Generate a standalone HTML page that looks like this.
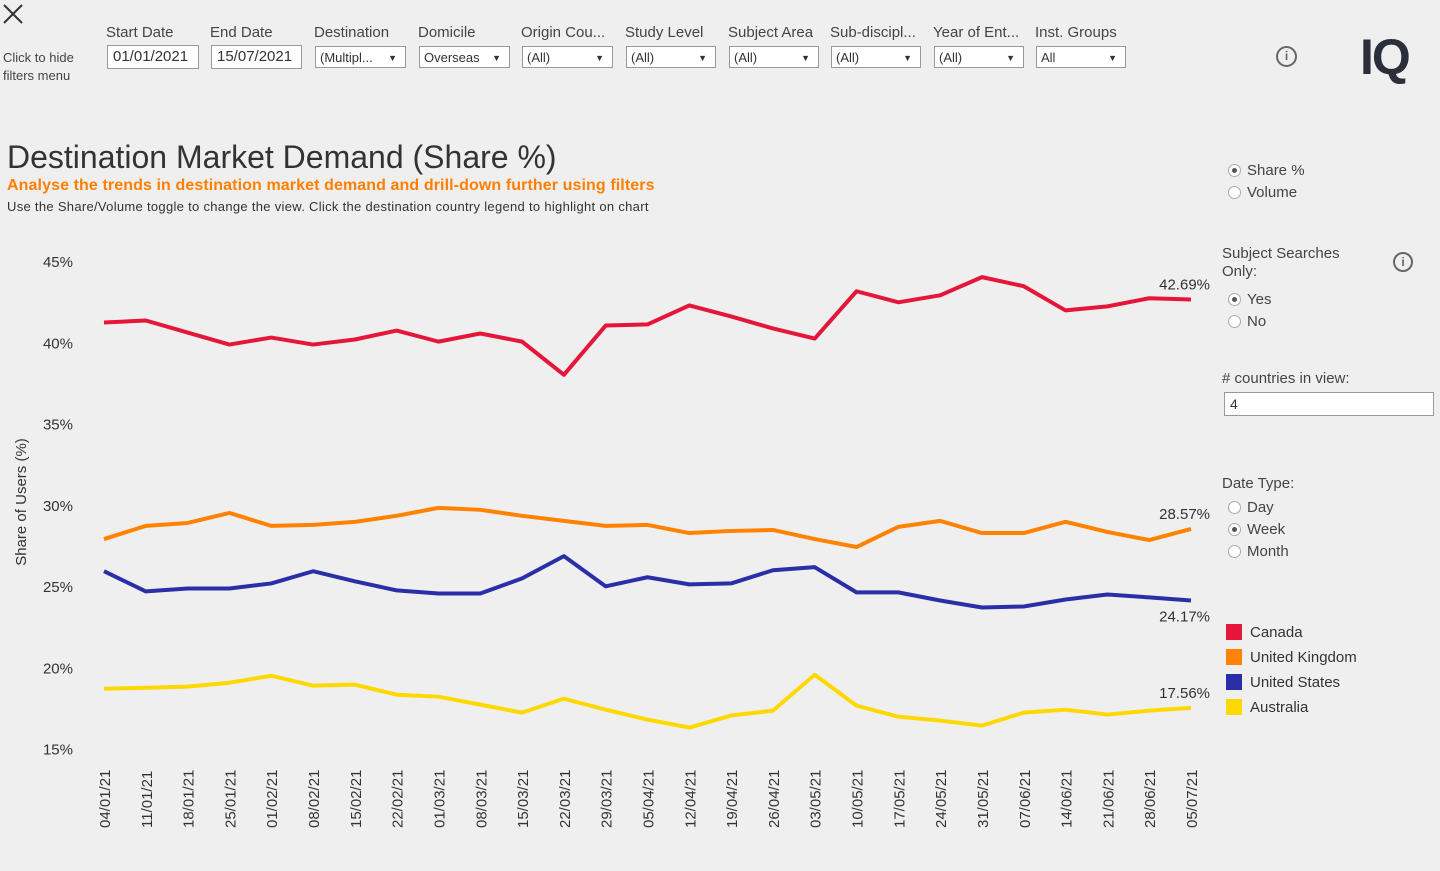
<!DOCTYPE html>
<html><head><meta charset="utf-8">
<style>
body{margin:0;width:1440px;height:871px;background:#efefef;font-family:"Liberation Sans",sans-serif;color:#333;position:relative;overflow:hidden}
.a{position:absolute}
.lbl{font-size:15px;color:#444}
.dd{position:absolute;height:22px;border:1px solid #999;background:#fff;font-size:13px;line-height:22px;padding-left:4px;box-sizing:border-box;color:#333}
.dd:after{content:"▼";position:absolute;right:8px;font-size:9px}
.inp{position:absolute;height:24px;border:1px solid #999;background:#fff;font-size:15px;line-height:22px;padding-left:5px;box-sizing:border-box}
.rad{position:absolute;font-size:15px;color:#444}
.rad i{display:inline-block;width:13px;height:13px;border:1px solid #aaa;border-radius:50%;background:#fff;vertical-align:-2px;margin-right:6px;position:relative;box-sizing:border-box}
.rad i.on:after{content:"";position:absolute;left:3px;top:3px;width:5px;height:5px;border-radius:50%;background:#555}
.leg{position:absolute;font-size:15px;color:#333}
.leg b{display:inline-block;width:16px;height:16px;vertical-align:-3px;margin-right:8px}
</style></head><body>
<svg class="a" style="left:3px;top:4px" width="20" height="20"><path d="M1 1L19 19M19 1L1 19" stroke="#333" stroke-width="2"/></svg>
<div class="a" style="left:3px;top:49px;font-size:13px;line-height:18px;color:#444">Click to hide<br>filters menu</div>

<div class="a lbl" style="left:106px;top:24px">Start Date</div>
<div class="inp" style="left:107px;top:45px;width:92px">01/01/2021</div>
<div class="a lbl" style="left:210px;top:24px">End Date</div>
<div class="inp" style="left:211px;top:45px;width:91px">15/07/2021</div>
<div class="a lbl" style="left:314px;top:24px">Destination</div>
<div class="dd" style="left:315px;top:46px;width:91px">(Multipl...</div>
<div class="a lbl" style="left:418px;top:24px">Domicile</div>
<div class="dd" style="left:419px;top:46px;width:91px">Overseas</div>
<div class="a lbl" style="left:521px;top:24px">Origin Cou...</div>
<div class="dd" style="left:522px;top:46px;width:91px">(All)</div>
<div class="a lbl" style="left:625px;top:24px">Study Level</div>
<div class="dd" style="left:626px;top:46px;width:90px">(All)</div>
<div class="a lbl" style="left:728px;top:24px">Subject Area</div>
<div class="dd" style="left:729px;top:46px;width:90px">(All)</div>
<div class="a lbl" style="left:830px;top:24px">Sub-discipl...</div>
<div class="dd" style="left:831px;top:46px;width:90px">(All)</div>
<div class="a lbl" style="left:933px;top:24px">Year of Ent...</div>
<div class="dd" style="left:934px;top:46px;width:90px">(All)</div>
<div class="a lbl" style="left:1035px;top:24px">Inst. Groups</div>
<div class="dd" style="left:1036px;top:46px;width:90px">All</div>
<div class="a" style="left:1276px;top:46px;width:21px;height:21px;border:2px solid #666;border-radius:50%;box-sizing:border-box;font-size:12px;text-align:center;line-height:17px;color:#666;font-weight:bold">i</div>
<div class="a" style="left:1360px;top:28px;font-size:50px;font-weight:bold;color:#2a2f3a;letter-spacing:-2px">IQ</div>

<div class="a" style="left:7px;top:139px;font-size:32px;color:#333">Destination Market Demand (Share %)</div>
<div class="a" style="left:7px;top:177px;font-size:16px;color:#ff7f00;font-weight:bold;letter-spacing:0.1px">Analyse the trends in destination market demand and drill-down further using filters</div>
<div class="a" style="left:7px;top:199px;font-size:13px;color:#333;letter-spacing:0.3px">Use the Share/Volume toggle to change the view. Click the destination country legend to highlight on chart</div>

<div class="rad" style="left:1228px;top:162px"><i class="on"></i>Share %</div>
<div class="rad" style="left:1228px;top:184px"><i></i>Volume</div>
<div class="a lbl" style="left:1222px;top:245px;line-height:18px">Subject Searches<br>Only:</div>
<div class="a" style="left:1393px;top:252px;width:20px;height:20px;border:2px solid #666;border-radius:50%;box-sizing:border-box;font-size:12px;text-align:center;line-height:16px;color:#666;font-weight:bold">i</div>
<div class="rad" style="left:1228px;top:291px"><i class="on"></i>Yes</div>
<div class="rad" style="left:1228px;top:313px"><i></i>No</div>
<div class="a lbl" style="left:1222px;top:370px"># countries in view:</div>
<div class="inp" style="left:1224px;top:392px;width:210px;height:24px;font-size:14px">4</div>
<div class="a lbl" style="left:1222px;top:475px">Date Type:</div>
<div class="rad" style="left:1228px;top:499px"><i></i>Day</div>
<div class="rad" style="left:1228px;top:521px"><i class="on"></i>Week</div>
<div class="rad" style="left:1228px;top:543px"><i></i>Month</div>
<div class="leg" style="left:1226px;top:624px"><b style="background:#e4173a"></b>Canada</div>
<div class="leg" style="left:1226px;top:649px"><b style="background:#ff8200"></b>United Kingdom</div>
<div class="leg" style="left:1226px;top:674px"><b style="background:#2a2fa8"></b>United States</div>
<div class="leg" style="left:1226px;top:699px"><b style="background:#ffd800"></b>Australia</div>

<svg class="a" id="chart" style="left:0;top:0" width="1440" height="871"></svg>
<script>
const dates=["04/01/21","11/01/21","18/01/21","25/01/21","01/02/21","08/02/21","15/02/21","22/02/21","01/03/21","08/03/21","15/03/21","22/03/21","29/03/21","05/04/21","12/04/21","19/04/21","26/04/21","03/05/21","10/05/21","17/05/21","24/05/21","31/05/21","07/06/21","14/06/21","21/06/21","28/06/21","05/07/21"];
const canada=[41.28,41.40,40.66,39.92,40.35,39.92,40.23,40.78,40.10,40.60,40.10,38.06,41.09,41.16,42.33,41.65,40.91,40.29,43.20,42.52,42.95,44.07,43.51,42.02,42.27,42.77,42.69];
const uk=[27.95,28.76,28.94,29.56,28.76,28.82,29.01,29.38,29.87,29.75,29.38,29.07,28.76,28.82,28.32,28.45,28.51,27.95,27.46,28.70,29.07,28.32,28.32,29.01,28.39,27.89,28.57];
const us=[25.97,24.73,24.91,24.91,25.22,25.97,25.35,24.79,24.60,24.60,25.53,26.90,25.04,25.60,25.16,25.22,26.03,26.22,24.67,24.67,24.17,23.74,23.80,24.23,24.54,24.36,24.17];
const au=[18.74,18.80,18.87,19.11,19.54,18.93,18.99,18.37,18.25,17.76,17.27,18.13,17.45,16.84,16.35,17.09,17.39,19.60,17.70,17.02,16.78,16.47,17.27,17.45,17.15,17.39,17.56];
const yTicks=[45,40,35,30,25,20,15];
const svg=document.getElementById('chart');const NS='http://www.w3.org/2000/svg';
const x=i=>104+i*(1087/(dates.length-1));
const y=v=>262+(45-v)*16.25;
function mk(t,a){const e=document.createElementNS(NS,t);for(const k in a)e.setAttribute(k,a[k]);svg.appendChild(e);return e;}
yTicks.forEach(v=>{const t=mk('text',{x:73,y:y(v)+5,'text-anchor':'end','font-size':15,fill:'#333','font-family':'Liberation Sans'});t.textContent=v+'%';

});
const yt=mk('text',{transform:'translate(26,502) rotate(-90)','text-anchor':'middle','font-size':15,fill:'#333','font-family':'Liberation Sans'});yt.textContent='Share of Users (%)';


dates.forEach((d,i)=>{const t=mk('text',{transform:`translate(${x(i)+6},828) rotate(-90)`,'font-size':15,fill:'#333','font-family':'Liberation Sans'});t.textContent=d;

});
[[canada,'#e4173a','canada'],[uk,'#ff8200','united-kingdom'],[us,'#2a2fa8','united-states'],[au,'#ffd800','australia']].forEach(([s,c,n])=>{
const p=mk('polyline',{points:s.map((v,i)=>x(i)+','+y(v)).join(' '),fill:'none',stroke:c,'stroke-width':4,'stroke-linejoin':'round'});


const last=s[s.length-1];const below=(n==='united-states');
const t=mk('text',{x:1210,y:below?y(last)+21:y(last)-10,'text-anchor':'end','font-size':15,fill:'#333','font-family':'Liberation Sans'});t.textContent=last.toFixed(2)+'%';

});
</script>
</body></html>
